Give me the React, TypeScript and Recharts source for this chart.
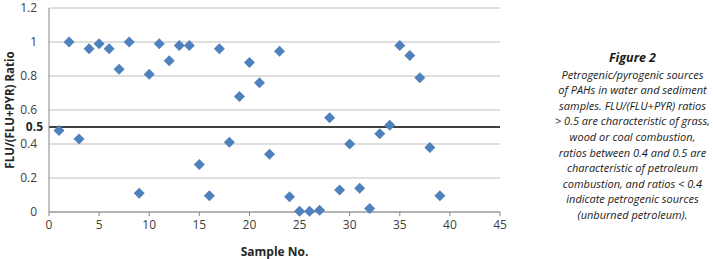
import React from 'react';
import {
  ScatterChart,
  Scatter,
  XAxis,
  YAxis,
  CartesianGrid,
  ReferenceLine,
} from 'recharts';

// Sample numbers and their FLU/(FLU+PYR) ratios
const sampleNo = [
  1, 2, 3, 4, 5, 6, 7, 8, 9, 10, 11, 12, 13, 14, 15, 16, 17, 18, 19, 20,
  21, 22, 23, 24, 25, 26, 27, 28, 29, 30, 31, 32, 33, 34, 35, 36, 37, 38, 39,
];
const ratio = [
  0.48, 1.0, 0.43, 0.96, 0.99, 0.96, 0.84, 1.0, 0.11, 0.81, 0.99, 0.89, 0.98,
  0.98, 0.28, 0.095, 0.96, 0.41, 0.68, 0.88, 0.76, 0.34, 0.945, 0.09, 0.005,
  0.005, 0.01, 0.555, 0.13, 0.4, 0.14, 0.02, 0.46, 0.51, 0.98, 0.92, 0.79,
  0.38, 0.095,
];
const xTicks = [0, 5, 10, 15, 20, 25, 30, 35, 40, 45];
const yTicks = [0, 0.2, 0.4, 0.6, 0.8, 1, 1.2];
const threshold = 0.5;

const captionTitle = 'Figure 2';
const captionLines = [
  'Petrogenic/pyrogenic sources',
  'of PAHs in water and sediment',
  'samples. FLU/(FLU+PYR) ratios',
  '> 0.5 are characteristic of grass,',
  'wood or coal combustion,',
  'ratios between 0.4 and 0.5 are',
  'characteristic of petroleum',
  'combustion, and ratios < 0.4',
  'indicate petrogenic sources',
  '(unburned petroleum).',
];

const data = sampleNo.map((s, i) => ({ sample: s, ratio: ratio[i] }));

const tickFont = { fontFamily: 'Open Sans', fontSize: 12, fill: '#404040' };

// Square rotated 45 degrees, like the Excel diamond marker
const Diamond = (props: any) => {
  const { cx, cy } = props;
  const r = 5.5;
  return (
    <path
      d={`M${cx},${cy - r}L${cx + r},${cy}L${cx},${cy + r}L${cx - r},${cy}Z`}
      fill="#4F81BD"
    />
  );
};

const App: React.FC = () => {
  return (
    <div style={{ position: 'absolute', left: 0, top: 0, width: 713, height: 259, background: '#fff' }}>
      <ScatterChart
        width={713}
        height={259}
        margin={{ top: 8, right: 213, bottom: 17, left: 9 }}
      >
        <CartesianGrid horizontal vertical={false} stroke="#BFBFBF" />
        <XAxis
          type="number"
          dataKey="sample"
          domain={[0, 45]}
          ticks={xTicks}
          height={30}
          tick={tickFont}
          tickSize={4}
          tickMargin={4}
          stroke="#868686"
          label={{
            value: 'Sample No.',
            position: 'insideBottom',
            offset: -14,
            style: { fontFamily: 'Open Sans', fontSize: 12, fontWeight: 'bold', fill: '#262626' },
          }}
        />
        <YAxis
          type="number"
          dataKey="ratio"
          domain={[0, 1.2]}
          ticks={yTicks}
          width={40}
          tick={tickFont}
          tickLine={false}
          tickMargin={6}
          stroke="#868686"
          tickFormatter={(v: number) => String(Math.round(v * 10) / 10)}
          label={{
            value: 'FLU/(FLU+PYR) Ratio',
            angle: -90,
            position: 'insideLeft',
            offset: 1,
            style: {
              textAnchor: 'middle',
              fontFamily: 'Open Sans',
              fontSize: 11.5,
              fontWeight: 'bold',
              fill: '#262626',
            },
          }}
        />
        <ReferenceLine
          y={threshold}
          stroke="#000"
          strokeWidth={1.5}
          label={(p: any) => (
            <text
              x={p.viewBox.x - 6}
              y={p.viewBox.y + 4}
              textAnchor="end"
              fontFamily="Open Sans"
              fontSize={12}
              fontWeight="bold"
              fill="#262626"
            >
              {threshold}
            </text>
          )}
        />
        <Scatter data={data} shape={<Diamond />} isAnimationActive={false} />
      </ScatterChart>
      <div
        style={{
          position: 'absolute',
          left: 545,
          top: 50,
          width: 175,
          textAlign: 'center',
          fontFamily: 'Open Sans',
          fontStyle: 'italic',
          fontSize: 11,
          lineHeight: '15.6px',
          color: '#1a1a1a',
        }}
      >
        <div style={{ fontWeight: 'bold', fontSize: 12.5, marginBottom: 1 }}>{captionTitle}</div>
        {captionLines.map((l) => (
          <div key={l} style={{ whiteSpace: 'nowrap' }}>{l}</div>
        ))}
      </div>
    </div>
  );
};

export default App;
